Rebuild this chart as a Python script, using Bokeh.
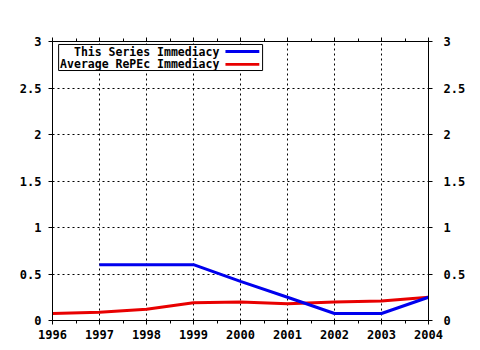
from bokeh.plotting import figure
from bokeh.models import (LinearAxis, FixedTicker, Range1d, BoxAnnotation, Label)
from bokeh.embed import file_html
from bokeh.resources import INLINE

years = [1996, 1997, 1998, 1999, 2000, 2001, 2002, 2003, 2004]
series_years = [1997, 1998, 1999, 2000, 2001, 2002, 2003, 2004]
series_values = [0.6, 0.6, 0.6, 0.42, 0.25, 0.075, 0.075, 0.25]
avg_values = [0.075, 0.088, 0.12, 0.19, 0.2, 0.18, 0.2, 0.21, 0.25]
minor_x = [1996.5 + i for i in range(8)]
y_ticks = [0, 0.5, 1, 1.5, 2, 2.5, 3]
y_labels = ["0", "0.5", "1", "1.5", "2", "2.5", "3"]
legend_names = ["This Series Immediacy", "Average RePEc Immediacy"]

FONT = "DejaVu Sans Mono"
FS = "12px"
LFS = "11.5px"
BLUE = "#0000ee"
RED = "#e80000"

p = figure(width=480, height=350, output_backend="svg", toolbar_location=None,
           x_range=Range1d(1996, 2004), y_range=Range1d(0, 3),
           x_axis_location=None, y_axis_location=None,
           min_border_left=52, min_border_right=52, min_border_top=41,
           min_border_bottom=30)
p.outline_line_color = "black"
p.background_fill_color = "white"
p.border_fill_color = "white"

xt = FixedTicker(ticks=years, minor_ticks=minor_x)
yt = FixedTicker(ticks=y_ticks, minor_ticks=[])
overrides = {t: l for t, l in zip(y_ticks, y_labels)}


def style(ax):
    ax.axis_line_color = "black"
    ax.major_tick_in = 0
    ax.major_tick_out = 4
    ax.minor_tick_in = 0
    ax.minor_tick_out = 3
    ax.major_label_text_font = FONT
    ax.major_label_text_font_style = "bold"
    ax.major_label_text_font_size = FS
    ax.major_label_text_color = "black"


bottom = LinearAxis(ticker=xt)
style(bottom)
bottom.major_label_standoff = 5
bottom.major_label_overrides = {y: str(y) for y in years}
p.add_layout(bottom, "below")

top = LinearAxis(ticker=xt)
style(top)
top.major_label_overrides = {y: "" for y in years}
top.major_label_standoff = 0
p.add_layout(top, "above")

left = LinearAxis(ticker=yt)
style(left)
left.major_label_standoff = 7
left.major_label_overrides = overrides
p.add_layout(left, "left")

right = LinearAxis(ticker=yt)
style(right)
right.major_label_standoff = 11
right.major_label_overrides = overrides
p.add_layout(right, "right")

p.xgrid.ticker = xt
p.ygrid.ticker = yt
for g in (p.xgrid, p.ygrid):
    g.grid_line_color = "black"
    g.grid_line_dash = "2 3"
    g.grid_line_width = 1
    g.grid_line_alpha = 1.0

p.line(years, avg_values, line_color=RED, line_width=3)
p.line(series_years, series_values, line_color=BLUE, line_width=3)

# manual legend (glyph on the right of the label)
p.add_layout(BoxAnnotation(left=1996.13, right=2000.47, top=2.968, bottom=2.688,
                           fill_color="white", fill_alpha=1.0,
                           line_color="black", line_width=1, line_alpha=1.0))
for i, (name, col) in enumerate(zip(legend_names, [BLUE, RED])):
    yc = 2.892 - i * 0.138
    p.add_layout(Label(x=1999.55, y=yc, text=name, text_align="right",
                       text_baseline="middle", text_font=FONT,
                       text_font_style="bold", text_font_size=LFS,
                       text_color="black"))
    p.add_layout(BoxAnnotation(left=1999.68, right=2000.40, top=yc + 0.016,
                               bottom=yc - 0.016, fill_color=col, fill_alpha=1.0,
                               line_color=None))

open("out.html", "w").write(file_html(p, INLINE))
